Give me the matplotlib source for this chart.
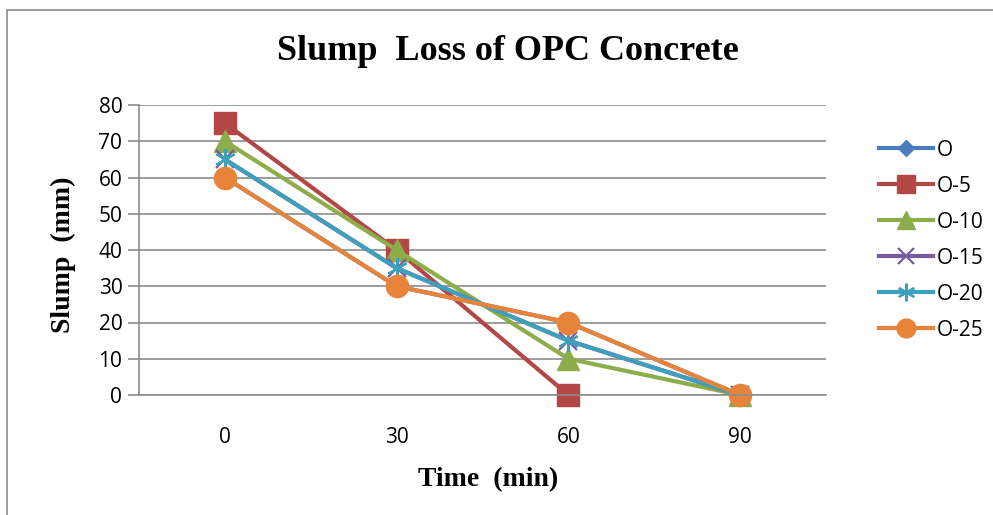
import numpy as np
import matplotlib.pyplot as plt
from matplotlib.patches import Rectangle

# time after mixing (min) and slump readings (mm) for each mix
times = ["0", "30", "60", "90"]
series_names = ["O", "O-5", "O-10", "O-15", "O-20", "O-25"]
slump_o = [60, 30, 20, 0]
slump_o5 = [75, 40, 0, np.nan]
slump_o10 = [70, 40, 10, 0]
slump_o15 = [65, 35, 15, 0]
slump_o20 = [65, 35, 15, 0]
slump_o25 = [60, 30, 20, 0]

colors = ["#4a7ebb", "#b24745", "#8cad4a", "#7a5a9e", "#3ea0bd", "#e8843a"]
markers = ["D", "s", "^", "x", (6, 2, 0), "o"]
msizes = [10, 16, 16, 13, 15, 16]

fig = plt.figure(figsize=(9.93, 5.15), dpi=100)
# chart frame like the Excel chart border
fig.patches.append(Rectangle((7 / 993, -0.1), 1.2, (515 - 10) / 515 + 0.1,
                             transform=fig.transFigure, fill=False,
                             edgecolor="#8c8c8c", linewidth=1.2))

ax = fig.add_axes([139 / 993, 120 / 515, (826 - 139) / 993, 290 / 515])
x = np.arange(len(times))
data = [slump_o, slump_o5, slump_o10, slump_o15, slump_o20, slump_o25]
for name, vals, c, m, ms in zip(series_names, data, colors, markers, msizes):
    mew = 1.6 if m in ("x", (6, 2, 0)) else 1
    ax.plot(x, vals, color=c, linewidth=3, marker=m, markersize=ms,
            markeredgecolor=c, markerfacecolor=c, markeredgewidth=mew,
            label=name, clip_on=False)

ax.set_xlim(-0.5, 3.5)
ax.set_ylim(0, 80)
ax.set_yticks(range(0, 81, 10))
ax.set_xticks(x)
ax.set_xticklabels(times)
ax.yaxis.grid(True, color="#8c8c8c", linewidth=1.2)
ax.set_axisbelow(True)
for s in ["top", "right"]:
    ax.spines[s].set_visible(False)
ax.spines["left"].set_color("#8c8c8c")
ax.spines["bottom"].set_color("#8c8c8c")
ax.spines["left"].set_linewidth(1.2)
ax.spines["bottom"].set_linewidth(1.2)
ax.tick_params(axis="y", length=8, color="#8c8c8c", width=1.2, labelsize=15, pad=4)
ax.tick_params(axis="x", length=0, labelsize=15, pad=23)
for lab in ax.get_xticklabels() + ax.get_yticklabels():
    lab.set_fontfamily("Open Sans")

fig.text(508 / 993, 1 - 52 / 515, "Slump  Loss of OPC Concrete",
         fontfamily="Liberation Serif", fontweight="bold", fontsize=26,
         ha="center", va="center")
fig.text(63 / 993, 1 - 255 / 515, "Slump  (mm)", fontfamily="Liberation Serif",
         fontweight="bold", fontsize=20, rotation=90, ha="center", va="center")
fig.text(488 / 993, 1 - 480 / 515, "Time  (min)", fontfamily="Liberation Serif",
         fontweight="bold", fontsize=20, ha="center", va="center")

leg = ax.legend(loc="upper left", bbox_to_anchor=(1.05, 0.945), frameon=False,
                prop={"family": "Open Sans", "size": 15}, handlelength=2.6,
                labelspacing=0.72, handletextpad=0.15, markerscale=0.85)

fig.savefig("out.png", dpi=100)
